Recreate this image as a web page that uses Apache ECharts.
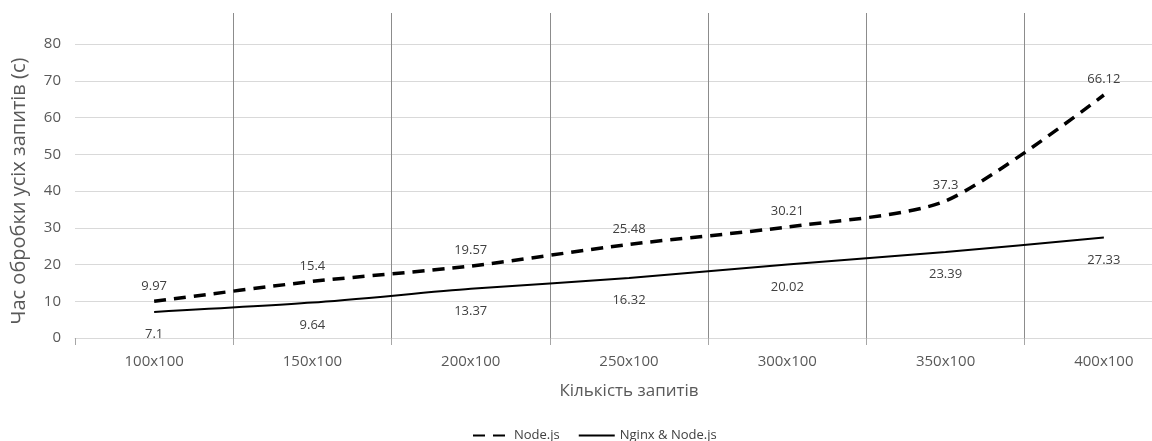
<!DOCTYPE html>
<html>
<head>
<meta charset="utf-8">
<script src="https://cdn.jsdelivr.net/npm/echarts@6/dist/echarts.min.js"></script>
<style>html,body{margin:0;padding:0;background:#fff;overflow:hidden;width:1152px;height:441px}#c{width:1190px;height:441px}</style>
</head>
<body>
<div id="c"></div>
<script>
const categories = ['100x100','150x100','200x100','250x100','300x100','350x100','400x100'];
const nodeValues = [9.97, 15.4, 19.57, 25.48, 30.21, 37.3, 66.12];
const nginxValues = [7.1, 9.64, 13.37, 16.32, 20.02, 23.39, 27.33];
const seriesNames = ['Node.js', 'Nginx & Node.js'];
const yTicks = [0, 80, 10];

const font = '"Open Sans", "Noto Sans", sans-serif';
const chart = echarts.init(document.getElementById('c'));
chart.setOption({
  animation: false,
  backgroundColor: '#fff',
  textStyle: { fontFamily: font },
  grid: [
    { left: 75, width: 1108, top: 44, bottom: 103 },
    { left: 75, width: 1108, top: 13, bottom: 96 }
  ],
  legend: {
    top: 424, left: 467,
    itemWidth: 36, itemHeight: 12, itemGap: 18,
    textStyle: { fontSize: 13, color: '#404040', fontFamily: font },
    data: seriesNames.map(n => ({ name: n, itemStyle: { opacity: 0 } }))
  },
  xAxis: [
    {
      type: 'category', gridIndex: 0, data: categories, boundaryGap: true,
      axisLine: { lineStyle: { color: '#d9d9d9', width: 1 } },
      axisTick: { show: true, length: 7, lineStyle: { color: '#a6a6a6' } },
      axisLabel: { color: '#595959', fontSize: 15, margin: 16 },
      splitLine: { show: false },
      name: 'Кількість запитів', nameLocation: 'middle', nameGap: 45,
      nameTextStyle: { color: '#595959', fontSize: 17 }
    },
    {
      type: 'category', gridIndex: 1, data: categories, boundaryGap: true,
      axisLine: { show: false }, axisTick: { show: false }, axisLabel: { show: false },
      splitLine: { show: true, interval: function (i) { return i > 0; }, lineStyle: { color: '#8c8c8c', width: 1 } }
    }
  ],
  yAxis: [
    {
      type: 'value', gridIndex: 0, min: yTicks[0], max: yTicks[1], interval: yTicks[2],
      axisLine: { show: false }, axisTick: { show: false },
      axisLabel: { color: '#595959', fontSize: 15, margin: 14 },
      splitLine: { lineStyle: { color: '#d9d9d9', width: 1 } },
      name: 'Час обробки усіх запитів (с)', nameLocation: 'middle', nameGap: 46,
      nameTextStyle: { color: '#595959', fontSize: 20 }
    },
    {
      type: 'value', gridIndex: 1, min: 0, max: 1, show: false
    }
  ],
  series: [
    {
      name: seriesNames[0], type: 'line', xAxisIndex: 0, yAxisIndex: 0,
      data: nodeValues, smooth: 0.25, symbol: 'circle', symbolSize: 0.01, showSymbol: true,
      lineStyle: { color: '#000', width: 3.5, type: [12, 8] },
      itemStyle: { color: '#000' },
      label: { show: true, position: 'top', distance: 9, color: '#404040', fontSize: 13, fontFamily: font }
    },
    {
      name: seriesNames[1], type: 'line', xAxisIndex: 0, yAxisIndex: 0,
      data: nginxValues, smooth: 0.25, symbol: 'circle', symbolSize: 0.01, showSymbol: true,
      lineStyle: { color: '#000', width: 2, type: 'solid' },
      itemStyle: { color: '#000' },
      label: { show: true, position: 'bottom', distance: 16, color: '#404040', fontSize: 13, fontFamily: font }
    }
  ]
});
</script>
</body>
</html>
